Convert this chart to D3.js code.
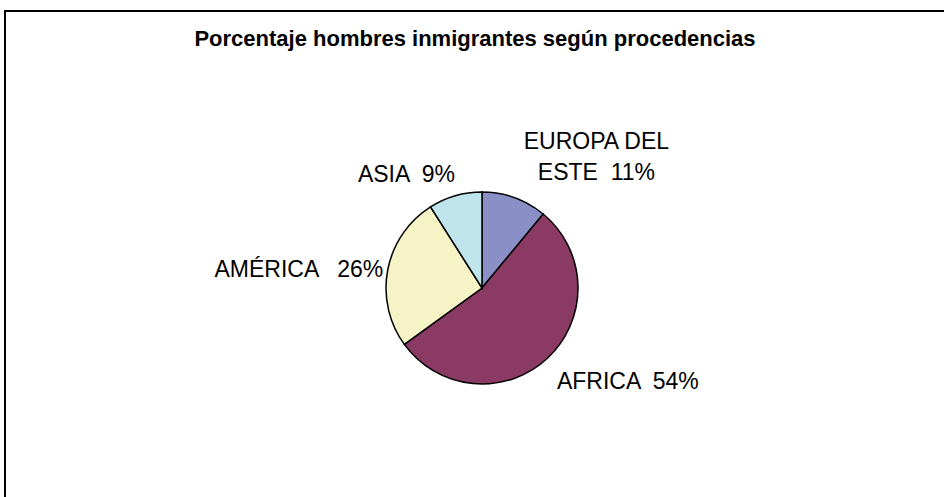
<!DOCTYPE html>
<html lang="es">
<head>
    <meta charset="UTF-8">
    <title>Porcentaje hombres inmigrantes según procedencias</title>
    <script src="https://d3js.org/d3.v7.min.js"></script>
    <style>
        body { margin: 0; background: #fff; }
        text { font-family: "Liberation Sans", Arial, sans-serif; fill: #000; white-space: pre; }
    </style>
</head>
<body>
    <div id="chart"></div>
    <script>
        // Data
        const regions = ["EUROPA DEL ESTE", "AFRICA", "AMÉRICA", "ASIA"];
        const shares = [11, 54, 26, 9];
        const sliceColors = ["#8A8FC6", "#8B3A64", "#F6F3C6", "#C0E4EB"];
        const gaps = ["  ", "  ", "   ", "  "];

        const W = 944, H = 497;
        const cx = 482, cy = 288, r = 96;

        const svg = d3.select("#chart").append("svg")
            .attr("width", W)
            .attr("height", H);

        // frame (only top and left edges are visible in the picture)
        svg.append("rect")
            .attr("x", 5).attr("y", 11)
            .attr("width", W + 10).attr("height", H + 10)
            .attr("fill", "#fff")
            .attr("stroke", "#000")
            .attr("stroke-width", 2);

        svg.append("text")
            .attr("x", 475)
            .attr("y", 46)
            .attr("text-anchor", "middle")
            .attr("font-size", "22px")
            .attr("font-weight", "bold")
            .text("Porcentaje hombres inmigrantes según procedencias");

        const data = regions.map((d, i) => ({name: d, value: shares[i], color: sliceColors[i], gap: gaps[i]}));

        const pie = d3.pie().sort(null).value(d => d.value);
        const arc = d3.arc().innerRadius(0).outerRadius(r);
        const labelArc = d3.arc().innerRadius(r * 1.55).outerRadius(r * 1.55);

        const g = svg.append("g").attr("transform", `translate(${cx},${cy})`);

        const arcs = pie(data);

        g.selectAll("path")
            .data(arcs)
            .join("path")
            .attr("d", arc)
            .attr("fill", d => d.data.color)
            .attr("stroke", "#000")
            .attr("stroke-width", 1.5);

        // Excel-style label placement: nudges from the label-arc centroid
        const nudge = {
            "EUROPA DEL ESTE": [64, 9],
            "AFRICA": [44, -15],
            "AMÉRICA": [-37, 9],
            "ASIA": [-34, 29]
        };

        function lines(d) {
            const tail = d.data.gap + d.data.value + "%";
            if (d.data.name.length > 10) {
                const words = d.data.name.split(" ");
                return [words.slice(0, -1).join(" "), words[words.length - 1] + tail];
            }
            return [d.data.name + tail];
        }

        const labels = g.selectAll("text.lbl")
            .data(arcs)
            .join("text")
            .attr("class", "lbl")
            .attr("font-size", "23px")
            .attr("text-anchor", "middle")
            .attr("transform", d => {
                const [x, y] = labelArc.centroid(d);
                const n = nudge[d.data.name] || [0, 0];
                return `translate(${x + n[0]},${y + n[1]})`;
            });

        labels.each(function (d) {
            const ls = lines(d);
            const t = d3.select(this);
            ls.forEach((l, i) => {
                t.append("tspan")
                    .attr("x", 0)
                    .attr("dy", i === 0 ? (8 - (ls.length - 1) * 15.5) : 31)
                    .text(l);
            });
        });
    </script>
</body>
</html>
